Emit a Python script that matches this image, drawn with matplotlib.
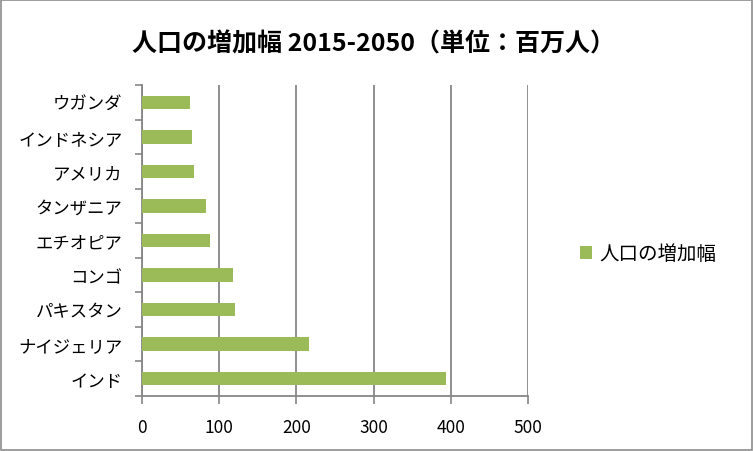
import matplotlib
matplotlib.use("Agg")
import matplotlib.pyplot as plt
from matplotlib.patches import Rectangle
import numpy as np

plt.rcParams['font.family'] = ['Noto Sans CJK JP', 'DejaVu Sans']

categories = ["インド", "ナイジェリア", "パキスタン", "コンゴ", "エチオピア",
              "タンザニア", "アメリカ", "インドネシア", "ウガンダ"]
values = [394, 216, 121, 118, 88, 83, 67, 65, 62]
series_name = "人口の増加幅"
title = "人口の増加幅 2015-2050（単位：百万人）"
xticks = [0, 100, 200, 300, 400, 500]

bar_color = "#9BBB59"
grid_color = "#868686"

fig = plt.figure(figsize=(7.53, 4.52), dpi=100)
ax = fig.add_axes([142/753, 55/452, (528-142)/753, (397-86)/452])

y = np.arange(len(categories))
ax.barh(y, values, height=0.39, color=bar_color, label=series_name, zorder=3)
ax.set_ylim(-0.5, len(categories) - 0.5)
ax.set_xlim(0, 500)
ax.set_xticks(xticks)
ax.set_xticklabels([str(t) for t in xticks], fontsize=12.5)
ax.set_yticks(y)
ax.set_yticklabels(categories, fontsize=12.5)
ax.tick_params(axis='y', length=0, pad=14)
ax.tick_params(axis='x', length=6, width=1.2, color=grid_color, pad=10)
ax.set_yticks(np.arange(-0.5, len(categories)), minor=True)
ax.tick_params(axis='y', which='minor', length=5, width=1.2, color=grid_color)

ax.grid(axis='x', color=grid_color, linewidth=1.3, zorder=0)
for s in ['top', 'right']:
    ax.spines[s].set_visible(False)
for s in ['left', 'bottom']:
    ax.spines[s].set_color(grid_color)
    ax.spines[s].set_linewidth(1.3)

fig.text(374/753, 1 - 44/452, title, ha='center', va='center',
         fontsize=18, fontweight='bold')

leg = ax.legend(loc='center left', frameon=False, fontsize=14,
                handlelength=0.6, handleheight=0.6, handletextpad=0.4,
                borderaxespad=0, borderpad=0)
leg.set_bbox_to_anchor((580/753, 1 - 255/452), transform=fig.transFigure)

fig.patches.append(Rectangle((1/753, 1/452), 751/753, 450/452, transform=fig.transFigure,
                             fill=False, edgecolor='#8C8C8C', linewidth=1.2))

fig.savefig("out.png", dpi=100)
